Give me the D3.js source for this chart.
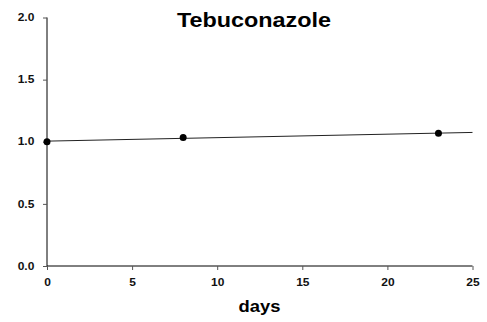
<!DOCTYPE html>
<html>
<head>
<meta charset="utf-8">
<script src="https://cdn.jsdelivr.net/npm/d3@7"></script>
<style>
body{margin:0;background:#fff;}
text{font-family:"Liberation Sans",Arial,sans-serif;font-weight:bold;}
</style>
</head>
<body>
<div id="main"></div>
<script>
var days=[0,8,23];
var values=[1.0,1.035,1.068];
var fitDays=[0,25];
var fitValues=[1.005,1.075];
var xTicks=[0,5,10,15,20,25];
var yTicks=[0,0.5,1.0,1.5,2.0];

var width=487,height=322;
var stretch=1.2; // the source picture is a bit wider than tall
var x=d3.scaleLinear().domain([0,25]).range([47,472.5]);
var y=d3.scaleLinear().domain([0,2]).range([266,17.5]);

var svg=d3.select('#main').append('svg')
    .attr('width',width)
    .attr('height',height);

// axes
var xAxis=svg.append('g')
    .attr('transform','translate(0,'+y(0)+')')
    .call(d3.axisBottom(x).tickValues(xTicks).tickSize(4).tickPadding(9).tickFormat(d3.format('d')));
var yAxis=svg.append('g')
    .attr('transform','translate('+x(0)+',0)')
    .call(d3.axisLeft(y).tickValues(yTicks).tickSize(4).tickPadding(8.7).tickFormat(d3.format('.1f')));

[xAxis,yAxis].forEach(function(a){
  a.select('.domain').attr('stroke','#000').attr('stroke-width',1);
  a.selectAll('.tick line').attr('stroke','#555');
  a.selectAll('.tick text')
    .attr('fill','#111')
    .style('font-size','10px')
    .style('font-family','"Liberation Sans",Arial,sans-serif')
    .style('font-weight','bold')
    .attr('x',function(){return (+this.getAttribute('x')||0)/stretch})
    .attr('transform','scale('+stretch+',1)');
});
yAxis.select('.domain').attr('d','M0,'+y(2)+'V'+y(0));
xAxis.select('.domain').attr('d','M'+x(0)+',0H'+x(25));

// regression line
var line=d3.line()
    .x(function(d){return x(d[0])})
    .y(function(d){return y(d[1])});
svg.append('path')
    .datum(fitDays.map(function(d,i){return [d,fitValues[i]]}))
    .attr('d',line)
    .attr('fill','none')
    .attr('stroke','#222')
    .attr('stroke-width',1);

// points
svg.selectAll('circle')
    .data(days.map(function(d,i){return [d,values[i]]}))
  .enter().append('circle')
    .attr('cx',function(d){return x(d[0])})
    .attr('cy',function(d){return y(d[1])})
    .attr('r',3.5)
    .attr('fill','#000');

// title and label
svg.append('text')
    .attr('x',254/1.17).attr('y',27)
    .attr('transform','scale(1.17,1)')
    .attr('text-anchor','middle')
    .style('font-size','20px')
    .text('Tebuconazole');
svg.append('text')
    .attr('x',259.5/1.15).attr('y',312)
    .attr('transform','scale(1.15,1)')
    .attr('text-anchor','middle')
    .style('font-size','16px')
    .text('days');
</script>
</body>
</html>
